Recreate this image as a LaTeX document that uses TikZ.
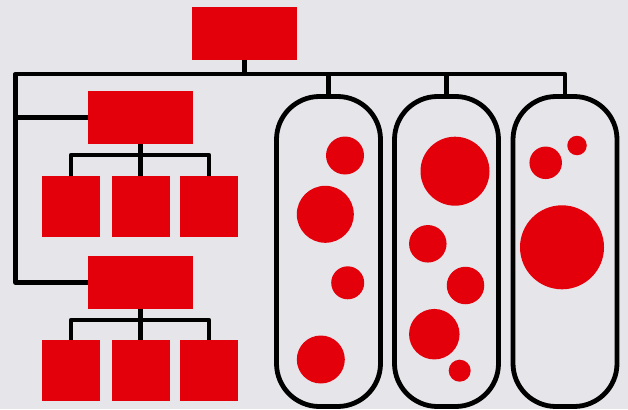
\documentclass[tikz,border=0pt]{standalone}
\usetikzlibrary{positioning}

\definecolor{paper}{RGB}{230,229,234}
\definecolor{orgred}{RGB}{227,0,11}

\begin{document}
\begin{tikzpicture}[
  x=1pt, y=-1pt,
  block/.style  = {rectangle, fill=orgred, inner sep=0pt,
                   minimum width=105pt, minimum height=52.5pt},
  leaf/.style   = {rectangle, fill=orgred, inner sep=0pt,
                   minimum width=58pt, minimum height=61pt},
  pill/.style   = {rectangle, draw=black, line width=4.8pt, rounded corners=43pt,
                   inner sep=0pt, minimum width=104pt, minimum height=310pt},
  dot/.style    = {circle, fill=orgred, inner sep=0pt, minimum size=#1},
  wire/.style   = {draw=black, line width=4.8pt, line join=round}
]

% ── Canvas ───────────────────────────────────────────────────────────────────
\fill[paper] (0,0) rectangle (628,409);
\useasboundingbox (0,0) rectangle (628,409);

% ── Hierarchy (left) ─────────────────────────────────────────────────────────
\node[block] (top) at (244.5,33.5) {};
\node[block] (hi)  at (140.5,117.5) {};
\node[block] (lo)  at (140.5,282.25) {};

\node[leaf] (hia) at (71,206.5) {};
\node[leaf] (hib) at (140.5,206.5) {};
\node[leaf] (hic) at (209,206.5) {};

\node[leaf] (loa) at (71,370.5) {};
\node[leaf] (lob) at (140.5,370.5) {};
\node[leaf] (loc) at (209,370.5) {};

% ── Containers (right) ───────────────────────────────────────────────────────
\node[pill] (pa) at (328.5,251.5) {};
\node[pill] (pb) at (446.5,251.5) {};
\node[pill] (pc) at (565,251.5) {};

% ── Bus coordinates ──────────────────────────────────────────────────────────
\coordinate (bus)   at (15.5,74);
\coordinate (hibus) at (140.5,155);
\coordinate (lobus) at (140.5,320);

% ── Connectors ───────────────────────────────────────────────────────────────
\draw[wire] (lo.west) -| (bus) -- (pc.north |- bus) -- (pc.north);
\draw[wire] (hi.west) -- (hi.west -| bus);
\draw[wire] (top.south) -- (top.south |- bus);
\draw[wire] (pa.north) -- (pa.north |- bus);
\draw[wire] (pb.north) -- (pb.north |- bus);

\draw[wire] (hia.north) |- (hibus) -| (hic.north);
\draw[wire] (hi.south) -- (hib.north);
\draw[wire] (loa.north) |- (lobus) -| (loc.north);
\draw[wire] (lo.south) -- (lob.north);

% ── Dots ─────────────────────────────────────────────────────────────────────
\node[dot=38pt] (a1) at (345,155.5) {};
\node[dot=57pt] (a2) at (325.3,214.3) {};
\node[dot=33pt] (a3) at (347.7,282.8) {};
\node[dot=48pt] (a4) at (320.8,359.5) {};

\node[dot=69pt] (b1) at (455,171.2) {};
\node[dot=37.5pt] (b2) at (427.8,243.8) {};
\node[dot=37.5pt] (b3) at (465.5,285.5) {};
\node[dot=50.5pt] (b4) at (434.3,334.2) {};
\node[dot=22pt] (b5) at (459.7,370.7) {};

\node[dot=32.5pt] (c1) at (545.7,162.8) {};
\node[dot=19.5pt] (c2) at (577,145.5) {};
\node[dot=84pt] (c3) at (562,247.3) {};

\end{tikzpicture}
\end{document}
